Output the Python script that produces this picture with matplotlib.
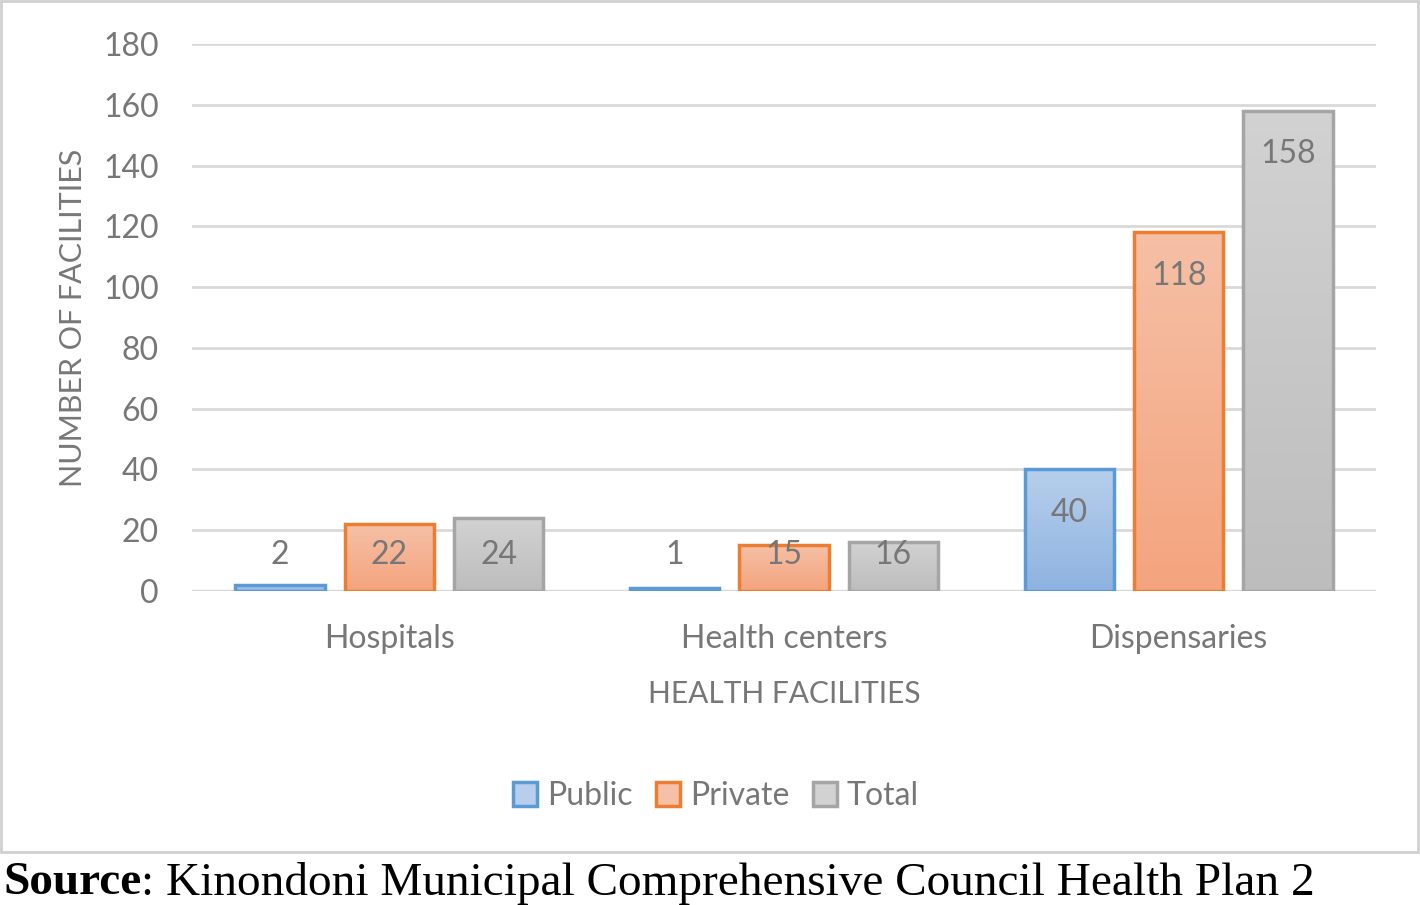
import matplotlib
matplotlib.use("Agg")
import matplotlib.pyplot as plt
import numpy as np
from matplotlib.colors import LinearSegmentedColormap
from matplotlib.patches import Rectangle, Patch

categories = ["Hospitals", "Health centers", "Dispensaries"]
series_names = ["Public", "Private", "Total"]
public = [2, 1, 40]
private = [22, 15, 118]
total = [24, 16, 158]
yticks = [0, 20, 40, 60, 80, 100, 120, 140, 160, 180]

values = [public, private, total]
edge_colors = ["#5b9bd5", "#ed7d31", "#a5a5a5"]
top_colors = ["#b7cfec", "#f6c0a6", "#d2d2d2"]
bot_colors = ["#8eb3e0", "#f4a47e", "#bdbdbd"]

W, H = 1420, 905
fig = plt.figure(figsize=(W / 100, H / 100), dpi=100)
plt.rcParams['font.family'] = ['Lato', 'DejaVu Sans']
txt = "#777777"
fs = 23

# chart border
fig.patches.append(Rectangle((1 / W, 1 - 852 / H), 1417 / W, 851 / H, transform=fig.transFigure,
                             fill=False, edgecolor="#d0d0d0", lw=2))

ax = fig.add_axes([192 / W, (H - 591) / H, 1184 / W, (591 - 44) / H])
for s in ax.spines.values():
    s.set_visible(False)
ax.set_yticks(yticks)
ax.tick_params(axis='y', length=0, pad=24, labelsize=fs, labelcolor=txt)
ax.tick_params(axis='x', length=0, pad=23.5, labelsize=fs, labelcolor=txt)
ax.grid(axis='y', color="#d9d9d9", lw=2)
ax.set_axisbelow(True)
ax.axhline(0, color="#d9d9d9", lw=2.5, zorder=1)

x = np.arange(len(categories))
bw = 0.226
off = 0.277
for i, (vals, name) in enumerate(zip(values, series_names)):
    cmap = LinearSegmentedColormap.from_list(name, [bot_colors[i], top_colors[i]])
    pos = x + (i - 1) * off
    bars = ax.bar(pos, vals, width=bw, facecolor="none", edgecolor=edge_colors[i],
                  lw=2.5, zorder=3, label=name)
    for b, v in zip(bars, vals):
        bx = b.get_x()
        grad = np.linspace(0, 1, 256).reshape(-1, 1)
        im = ax.imshow(grad, cmap=cmap, origin='lower', aspect='auto',
                       extent=[bx, bx + b.get_width(), 0, max(v, 0.01)], zorder=2)
        im.set_clip_path(b)
        ly = max(v - 14.2, 11.8)
        ax.text(bx + b.get_width() / 2, ly, str(v), ha='center', va='center',
                fontsize=fs, color=txt, zorder=4)
ax.set_xlim(-0.5, 2.5)
ax.set_ylim(0, 180)
ax.set_xticks(x)
ax.set_xticklabels(categories)
ax.set_xlabel("HEALTH FACILITIES", fontsize=21.5, color=txt)
ax.xaxis.label.set_verticalalignment('center')
ax.xaxis.set_label_coords(0.5, (591 - 694) / 547)
ax.set_ylabel("NUMBER OF FACILITIES", fontsize=22, color=txt)
ax.yaxis.label.set_verticalalignment('center')
ax.yaxis.set_label_coords((73 - 192) / 1184, 0.5)

# legend
handles = [Patch(facecolor=top_colors[i], edgecolor=edge_colors[i], lw=2.5) for i in range(3)]
leg = fig.legend(handles, series_names, loc='center', bbox_to_anchor=(716 / W, 1 - 796 / H),
                 ncol=3, frameon=False, fontsize=fs, handlelength=0.75, handleheight=0.75,
                 handletextpad=0.3, columnspacing=0.75, labelcolor=txt)

# source caption
t1 = fig.text(3 / W, 1 - 883 / H, "Source", fontsize=34, family="Liberation Serif",
              fontweight='bold', va='center', ha='left')
src = fig.text(0, 0, ": Kinondoni Municipal Comprehensive Council Health Plan 2", fontsize=34,
               family="Liberation Serif", va='center', ha='left')
fig.canvas.draw()
r = fig.canvas.get_renderer()
bb = t1.get_window_extent(r)
src.set_position((bb.x1 / W, 1 - 883 / H))

fig.savefig("out.png", dpi=100, facecolor="white")
